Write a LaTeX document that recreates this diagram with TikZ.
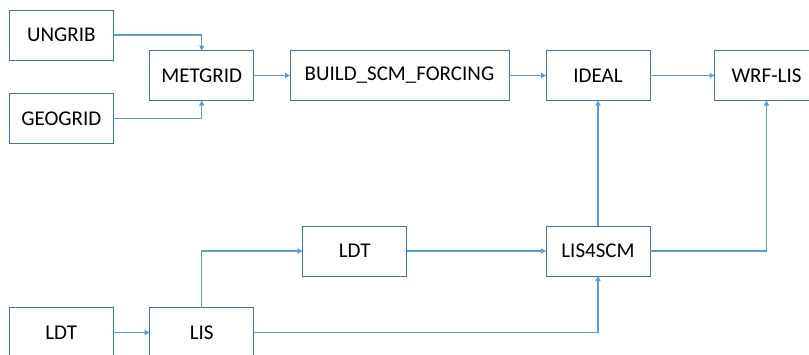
\documentclass[tikz,border=0pt]{standalone}
\usepackage{fontspec}
\setmainfont{Carlito}
\usetikzlibrary{arrows.meta}
\definecolor{boxc}{HTML}{41719C}
\definecolor{linec}{HTML}{5B9BD5}
\begin{document}
\begin{tikzpicture}[x=1pt,y=-1pt,
  box/.style={draw=boxc,line width=1pt,minimum width=104pt,minimum height=50pt,
    inner sep=0pt,outer sep=0pt,font=\fontsize{21}{25}\selectfont,fill=white},
  conn/.style={draw=linec,line width=1.5pt,-{Triangle[length=5pt,width=5pt]}}]
\useasboundingbox (0,0) rectangle (809,354);
\clip (0,0) rectangle (809,354);
\node[box] (ungrib) at (61.3,35.2) {UNGRIB};
\node[box] (geogrid) at (61.3,118.3) {GEOGRID};
\node[box] (metgrid) at (201.7,75.5) {METGRID};
\node[box,minimum width=219pt] (build) at (399.5,75.5) {BUILD\_SCM\_FORCING};
\node[box] (ideal) at (598,75.5) {IDEAL};
\node[box] (wrflis) at (766.5,75.5) {WRF-LIS};
\node[box] (ldtmid) at (354.7,251) {LDT};
\node[box] (lisscm) at (598,251) {LIS4SCM};
\node[box] (ldtbot) at (61.3,332.5) {LDT};
\node[box] (lis) at (201.7,332.5) {LIS};
\draw[conn] (ungrib.east) -| (metgrid.north);
\draw[conn] (geogrid.east) -| (metgrid.south);
\draw[conn] (metgrid.east) -- (build.west);
\draw[conn] (build.east) -- (ideal.west);
\draw[conn] (ideal.east) -- (wrflis.west);
\draw[conn] (lisscm.north) -- (ideal.south);
\draw[conn] (lisscm.east) -| (wrflis.south);
\draw[conn] (ldtmid.east) -- (lisscm.west);
\draw[conn] (ldtbot.east) -- (lis.west);
\draw[conn] (lis.north) |- (ldtmid.west);
\draw[conn] (lis.east) -| (lisscm.south);
\end{tikzpicture}
\end{document}
